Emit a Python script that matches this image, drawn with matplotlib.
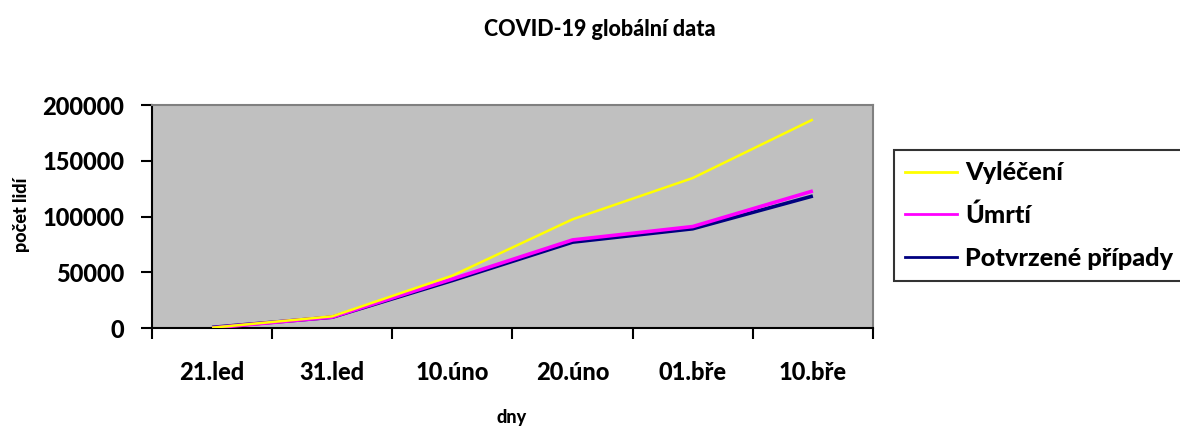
import matplotlib
matplotlib.use("Agg")
import matplotlib.pyplot as plt
from matplotlib.lines import Line2D

categories = ["21.led", "31.led", "10.úno", "20.úno", "01.bře", "10.bře"]
vyleceni = [300, 10500, 47000, 97500, 134500, 187000]
umrti = [100, 9800, 44000, 79000, 91000, 122900]
potvrzene = [580, 9700, 42600, 77000, 89000, 118400]
yticks = [0, 50000, 100000, 150000, 200000]

FONT = ["Lato", "DejaVu Sans"]
W = 900
plt.rcParams["font.family"] = FONT
plt.rcParams["font.weight"] = W

fig = plt.figure(figsize=(11.8, 4.26), dpi=100)
ax = fig.add_axes([0.1288, 0.230, 0.6110, 0.5235])
ax.set_facecolor("#C0C0C0")

x = list(range(len(categories)))
ax.plot(x, potvrzene, color="#000080", lw=2.6, solid_capstyle="butt", zorder=3)
ax.plot(x, umrti, color="#FF00FF", lw=2.6, solid_capstyle="butt", zorder=4)
ax.plot(x, vyleceni, color="#FFFF00", lw=1.8, solid_capstyle="butt", zorder=5)

ax.set_xlim(-0.5, len(categories) - 0.5)
ax.set_ylim(0, 200000)
ax.set_yticks(yticks)
ax.set_yticklabels([str(v) for v in yticks], fontsize=17, fontweight=W)

ax.set_xticks([i - 0.5 for i in range(len(categories) + 1)])
ax.set_xticklabels([])
ax.set_xticks(x, minor=True)
ax.set_xticklabels(categories, minor=True, fontsize=17, fontweight=W)
ax.tick_params(axis="x", which="major", direction="out", length=8, width=1.5, color="black")
ax.tick_params(axis="x", which="minor", length=0, pad=24)
ax.tick_params(axis="y", direction="out", length=8, width=1.5, color="black", pad=12)

for s in ("left", "bottom"):
    ax.spines[s].set_color("black")
    ax.spines[s].set_linewidth(1.5)
for s in ("top", "right"):
    ax.spines[s].set_color("#808080")
    ax.spines[s].set_linewidth(1.5)

fig.text(0.5085, 1 - 30 / 426, "COVID-19 globální data", ha="center", va="center",
         fontsize=15.5, fontweight=W)
fig.text(21 / 1180, 1 - 215 / 426, "počet lidí", ha="center", va="center",
         rotation=90, fontsize=13, fontweight=W)
fig.text(512 / 1180, 1 - 418 / 426, "dny", ha="center", va="center",
         fontsize=13, fontweight=W)

handles = [Line2D([], [], color="#FFFF00", lw=2),
           Line2D([], [], color="#FF00FF", lw=2),
           Line2D([], [], color="#000080", lw=2)]
labels = ["Vyléčení", "Úmrtí", "Potvrzené případy"]
leg = fig.legend(handles, labels, loc="upper left", bbox_to_anchor=(894 / 1180, 1 - 150 / 426),
                 frameon=True, fancybox=False, edgecolor="black",
                 prop={"weight": W, "size": 18.2, "family": FONT},
                 handlelength=2.05, handletextpad=0.3, labelspacing=0.77,
                 borderpad=0.45, borderaxespad=0)
leg.get_frame().set_linewidth(1.5)

fig.savefig("out.png", dpi=100)
